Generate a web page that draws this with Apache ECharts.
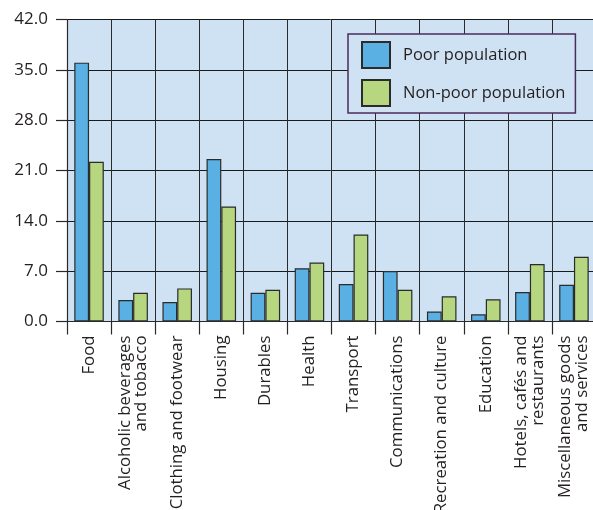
<!DOCTYPE html>
<html><head><meta charset="utf-8">
<script src="https://cdn.jsdelivr.net/npm/echarts@6/dist/echarts.min.js"></script>
<style>html,body{margin:0;padding:0;background:#fff}#c{width:593px;height:510px}</style>
</head><body><div id="c"></div>
<script>
var categories = ["Food","Alcoholic beverages\nand tobacco","Clothing and footwear","Housing","Durables","Health","Transport","Communications","Recreation and culture","Education","Hotels, cafés and\nrestaurants","Miscellaneous goods\nand services"];
var poor = [36.0, 3.0, 2.7, 22.6, 4.0, 7.4, 5.2, 7.0, 1.4, 1.0, 4.1, 5.1];
var nonPoor = [22.2, 4.0, 4.6, 16.0, 4.4, 8.2, 12.1, 4.4, 3.5, 3.1, 8.0, 9.0];
var yTicks = {min: 0, max: 42, interval: 7};

var FONT = "Open Sans";
var chart = echarts.init(document.getElementById('c'), null, {renderer: 'canvas'});
chart.setOption({
  animation: false,
  grid: {left: 67, top: 19.5, width: 529, height: 302, show: true, backgroundColor: '#cfe2f3', borderWidth: 0,
         containLabel: false, outerBoundsMode: 'none'},
  legend: {
    orient: 'vertical', left: 348, top: 34, icon: 'rect',
    itemWidth: 28, itemHeight: 26, itemGap: 10, padding: [7, 10, 6, 13],
    backgroundColor: '#cfe2f3', borderColor: '#4b2d5c', borderWidth: 1.5,
    textStyle: {fontFamily: FONT, fontSize: 16.5, color: '#231f20', padding: [0,0,0,8]},
    data: ['Poor population', 'Non-poor population']
  },
  xAxis: {
    type: 'category', data: categories,
    axisLine: {show: true, lineStyle: {color: '#2a2a2a', width: 1.2}},
    axisTick: {show: true, length: 13, lineStyle: {color: '#2a2a2a', width: 1.2}},
    splitLine: {show: true, lineStyle: {color: '#2a2a2a', width: 1}},
    axisLabel: {rotate: 90, margin: 14, fontFamily: FONT, fontSize: 16.8, color: '#231f20', lineHeight: 16.5, interval: 0}
  },
  yAxis: {
    type: 'value', min: yTicks.min, max: yTicks.max, interval: yTicks.interval,
    axisLine: {show: true, lineStyle: {color: '#2a2a2a', width: 1.2}},
    axisTick: {show: true, length: 11, lineStyle: {color: '#2a2a2a', width: 1.2}},
    splitLine: {show: true, lineStyle: {color: '#1a1a1a', width: 1}},
    axisLabel: {margin: 19, fontFamily: FONT, fontSize: 17, color: '#231f20', formatter: function(v){return v.toFixed(1);}}
  },
  series: [
    {name: 'Poor population', type: 'bar', data: poor, barGap: '0%', barCategoryGap: '33%',
     itemStyle: {color: '#5ab0e3', borderColor: '#2b2b2b', borderWidth: 1.2}},
    {name: 'Non-poor population', type: 'bar', data: nonPoor,
     itemStyle: {color: '#b6d67f', borderColor: '#2b2b2b', borderWidth: 1.2}}
  ]
});
</script></body></html>
